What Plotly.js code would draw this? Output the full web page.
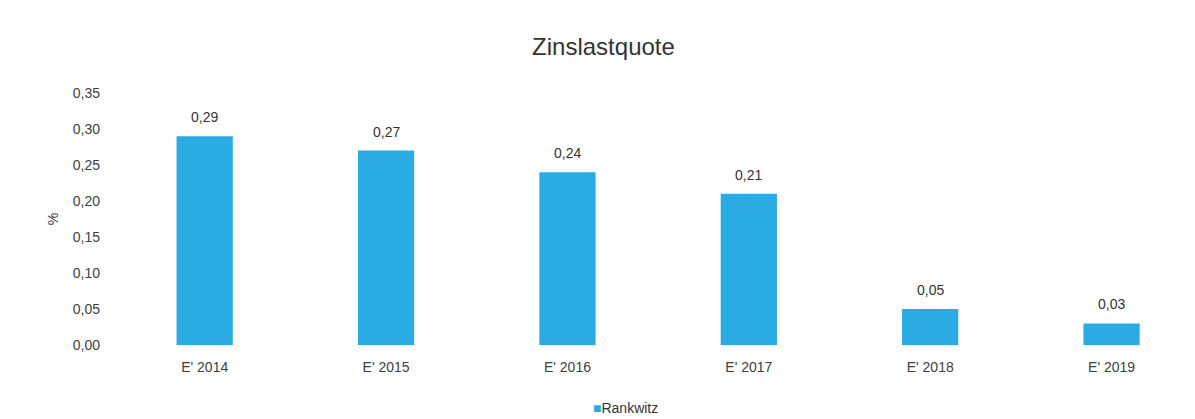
<!DOCTYPE html>
<html>
<head>
<meta charset="utf-8">
<script src="https://cdn.plot.ly/plotly-3.0.1.min.js"></script>
<style>html,body{margin:0;padding:0;background:#fff;}#chart{width:1195px;height:419px;}</style>
</head>
<body>
<div id="chart"></div>
<script>
const categories = ["E' 2014", "E' 2015", "E' 2016", "E' 2017", "E' 2018", "E' 2019"];
const values = [0.29, 0.27, 0.24, 0.21, 0.05, 0.03];
const seriesName = "Rankwitz";
const barColor = '#2AABE4';
const fontFam = 'Liberation Sans, Arial, sans-serif';

const trace = {
  type: 'bar',
  x: categories,
  y: values,
  name: seriesName,
  marker: {color: barColor},
  showlegend: false
};

const labelAnns = categories.map((c, i) => ({
  x: c, y: values[i], xref: 'x', yref: 'y',
  text: values[i].toFixed(2).replace('.', ','),
  showarrow: false, yanchor: 'bottom', yshift: 9,
  font: {family: fontFam, size: 14, color: '#333333'}
}));

const legendAnn = {
  xref: 'x domain', yref: 'paper', x: (625 - 114) / (1195 - 114), y: -0.25,
  xanchor: 'center', yanchor: 'middle',
  text: '<span style="color:' + barColor + '">■</span>' + seriesName,
  showarrow: false, font: {family: fontFam, size: 14, color: '#333333'}
};

const layout = {
  width: 1195,
  height: 419,
  separators: ',.',
  paper_bgcolor: '#ffffff',
  plot_bgcolor: '#ffffff',
  margin: {l: 114, r: 0, t: 93, b: 74},
  bargap: 0.69,
  font: {family: fontFam, color: '#404040'},
  title: {text: 'Zinslastquote', x: 0.505, xanchor: 'center', y: 0.888, yanchor: 'middle',
          font: {size: 24, color: '#333333'}},
  xaxis: {
    type: 'category',
    range: [-0.5, 5.46],
    showgrid: false, zeroline: false, showline: false,
    ticks: '', ticklabelstandoff: 12, tickfont: {size: 14, color: '#404040'}
  },
  yaxis: {
    range: [0, 0.35],
    dtick: 0.05,
    tickformat: '.2f',
    showgrid: false, zeroline: false, showline: false,
    ticks: '', ticklabelstandoff: 13,
    tickfont: {size: 14, color: '#404040'},
    title: {text: '%', font: {size: 14, color: '#404040'}, standoff: 10}
  },
  showlegend: false,
  annotations: labelAnns.concat([legendAnn])
};

Plotly.newPlot('chart', [trace], layout, {displayModeBar: false, staticPlot: true});
</script>
</body>
</html>
